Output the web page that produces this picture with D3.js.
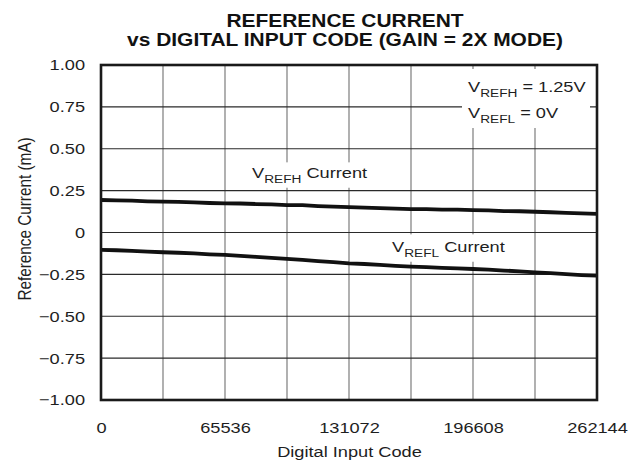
<!DOCTYPE html>
<html>
<head>
<meta charset="utf-8">
<script src="https://cdn.jsdelivr.net/npm/d3@7"></script>
<style>
  html, body { margin: 0; padding: 0; background: #fff; }
  svg { display: block; font-family: "Liberation Sans", Arial, Helvetica, sans-serif; }
</style>
</head>
<body>
<svg id="chart" width="631" height="464"></svg>
<script>
// Digital input codes at which the reference currents were sampled
const codes = [
  0, 8192, 16384, 24576, 32768, 40960, 49152, 57344, 65536,
  73728, 81920, 90112, 98304, 106496, 114688, 122880, 131072,
  139264, 147456, 155648, 163840, 172032, 180224, 188416, 196608,
  204800, 212992, 221184, 229376, 237568, 245760, 253952, 262144
];
// Current into VREFH (mA)
const vrefhCurrent = [
  0.194, 0.192, 0.190, 0.186, 0.184, 0.183, 0.180, 0.176, 0.174,
  0.173, 0.170, 0.168, 0.164, 0.163, 0.158, 0.154, 0.151,
  0.149, 0.146, 0.143, 0.140, 0.140, 0.137, 0.136, 0.134,
  0.132, 0.128, 0.127, 0.124, 0.121, 0.117, 0.114, 0.111
];
// Current into VREFL (mA)
const vreflCurrent = [
  -0.104, -0.106, -0.110, -0.114, -0.118, -0.121, -0.125, -0.130, -0.134,
  -0.139, -0.145, -0.151, -0.158, -0.164, -0.171, -0.177, -0.184,
  -0.188, -0.193, -0.199, -0.204, -0.207, -0.211, -0.214, -0.218,
  -0.222, -0.227, -0.232, -0.238, -0.243, -0.249, -0.254, -0.258
];
const xTickValues = [0, 65536, 131072, 196608, 262144];
const xTickLabels = ["0", "65536", "131072", "196608", "262144"];
const xGridValues = [0, 32768, 65536, 98304, 131072, 163840, 196608, 229376, 262144];
const yTickValues = [-1, -0.75, -0.5, -0.25, 0, 0.25, 0.5, 0.75, 1];
const yTickLabels = ["\u22121.00", "\u22120.75", "\u22120.50", "\u22120.25", "0", "0.25", "0.50", "0.75", "1.00"];

const SX = 1.19;          // horizontal glyph stretch used throughout the figure
const FS = 15.3;          // body font size
const SUB = 11.5;         // subscript font size
const INK = "#1e1e1e";

const svg = d3.select("#chart");
const plot = { left: 101, right: 597, top: 65, bottom: 400 };

const x = d3.scaleLinear().domain([0, 262144]).range([plot.left, plot.right]);
const y = d3.scaleLinear().domain([-1, 1]).range([plot.bottom, plot.top]);

function stretchAt(sel) {
  sel.each(function () {
    const t = d3.select(this);
    const ax = +t.attr("x") || 0;
    t.attr("transform", `translate(${ax},0) scale(${SX},1) translate(${-ax},0)`);
  });
}

// Grid
const grid = svg.append("g");
grid.selectAll("line.v").data(xGridValues.slice(1, -1)).join("line")
  .attr("x1", d => x(d)).attr("x2", d => x(d))
  .attr("y1", plot.top).attr("y2", plot.bottom)
  .attr("stroke", "#707070").attr("stroke-width", 1.1);
grid.selectAll("line.h").data(yTickValues.slice(1, -1)).join("line")
  .attr("x1", plot.left).attr("x2", plot.right)
  .attr("y1", d => y(d)).attr("y2", d => y(d))
  .attr("stroke", "#2a2a2a").attr("stroke-width", 1.2);

// Series
const line = d3.line().x(d => x(d[0])).y(d => y(d[1]));
const seriesList = [vrefhCurrent, vreflCurrent];
svg.append("g").selectAll("path").data(seriesList).join("path")
  .attr("d", vals => line(codes.map((c, i) => [c, vals[i]])))
  .attr("fill", "none").attr("stroke", "#111")
  .attr("stroke-width", 3.8).attr("stroke-linejoin", "round");

// Text label with subscript, on a white backing
function label(gx, gy, parts) {
  const g = svg.append("g").attr("transform", `translate(${gx},${gy}) scale(${SX},1)`);
  const bg = g.append("rect").attr("fill", "#fff");
  const t = g.append("text").attr("fill", INK).style("font-size", FS + "px");
  parts.forEach(p => {
    const s = t.append("tspan").text(p.t);
    if (p.sub) s.style("font-size", SUB + "px").attr("dy", 5);
    else if (p.up) s.attr("dy", -5);
  });
  return { g, bg, t };
}
function backing(it, pad) {
  const b = it.t.node().getBBox();
  it.bg.attr("x", b.x - pad[3] / SX).attr("y", b.y - pad[0])
    .attr("width", b.width + (pad[1] + pad[3]) / SX).attr("height", b.height + pad[0] + pad[2]);
}

const hLab = label(252, 178, [{ t: "V" }, { t: "REFH", sub: true }, { t: " Current", up: true }]);
backing(hLab, [2, 5, 2, 5]);
const lLab = label(392, 252, [{ t: "V" }, { t: "REFL", sub: true }, { t: " Current", up: true }]);
backing(lLab, [4, 5, 2, 5]);

// Conditions box in the top-right corner
const cond = svg.append("g").attr("transform", `translate(468,0) scale(${SX},1)`);
const condBg = cond.append("rect").attr("fill", "#fff");
const c1 = cond.append("text").attr("y", 91.7).attr("fill", INK).style("font-size", FS + "px");
c1.append("tspan").text("V");
c1.append("tspan").text("REFH").style("font-size", SUB + "px").attr("dy", 5);
c1.append("tspan").text(" = 1.25V").attr("dy", -5);
const c2 = cond.append("text").attr("y", 118.3).attr("fill", INK).style("font-size", FS + "px");
c2.append("tspan").text("V");
c2.append("tspan").text("REFL").style("font-size", SUB + "px").attr("dy", 5);
c2.append("tspan").text(" = 0V").attr("dy", -5);
condBg.attr("x", -6 / SX).attr("y", 69).attr("width", (590 - 462) / SX).attr("height", 128 - 69);

// Frame
svg.append("rect")
  .attr("x", plot.left).attr("y", plot.top)
  .attr("width", plot.right - plot.left).attr("height", plot.bottom - plot.top)
  .attr("fill", "none").attr("stroke", "#1a1a1a").attr("stroke-width", 2.6);

// Axes
const yAxis = svg.append("g").attr("transform", `translate(${plot.left},0)`)
  .call(d3.axisLeft(y).tickValues(yTickValues).tickSize(0).tickPadding(16)
    .tickFormat((d, i) => yTickLabels[i]));
const xAxis = svg.append("g").attr("transform", `translate(0,${plot.bottom})`)
  .call(d3.axisBottom(x).tickValues(xTickValues).tickSize(0).tickPadding(22)
    .tickFormat((d, i) => xTickLabels[i]));
[yAxis, xAxis].forEach(a => {
  a.select(".domain").remove();
  a.selectAll("text").attr("fill", INK).style("font-size", FS + "px")
    .style("font-family", "'Liberation Sans', Arial, sans-serif");
  stretchAt(a.selectAll("text"));
});

// Axis titles
const xt = svg.append("text").attr("x", 349.5).attr("y", 457.5)
  .attr("text-anchor", "middle").attr("fill", INK).style("font-size", FS + "px")
  .text("Digital Input Code");
stretchAt(xt);
svg.append("text")
  .attr("transform", `translate(31,219) scale(${SX},1) rotate(-90)`)
  .attr("text-anchor", "middle").attr("fill", INK).style("font-size", FS + "px")
  .text("Reference Current (mA)");

// Title
const title = svg.append("g").attr("transform", `translate(345,0) scale(${SX},1)`)
  .attr("text-anchor", "middle").attr("fill", "#111")
  .style("font-weight", "bold").style("font-size", "17.6px");
title.append("text").attr("y", 27).text("REFERENCE CURRENT");
title.append("text").attr("y", 46).text("vs DIGITAL INPUT CODE (GAIN = 2X MODE)");
</script>
</body>
</html>
